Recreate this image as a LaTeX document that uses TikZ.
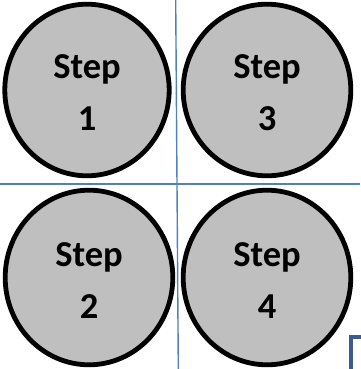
\documentclass[tikz,border=0pt]{standalone}
\usepackage{fontspec}
\setmainfont{Carlito}
\usetikzlibrary{shapes.geometric}
\definecolor{stepgray}{RGB}{191,191,191}
\definecolor{gridblue}{RGB}{79,129,189}
\definecolor{darkblue}{RGB}{59,91,146}
\newcommand{\stepstrut}{\rule{0pt}{29pt}}
\begin{document}
\begin{tikzpicture}[x=1pt,y=-1pt,
  stepcircle/.style={ellipse,draw=black,fill=stepgray,line width=4.8pt,
    inner sep=0pt,align=center,font=\bfseries\fontsize{36.5}{52}\selectfont,text=black},
  gridline/.style={draw=gridblue,line width=1.4pt}]
\useasboundingbox (0,0) rectangle (360,369);
% grid lines
\draw[gridline] (0,184) -- (360,184);
\draw[gridline] (175.7,0) -- (178.3,369);
% circles
\node[stepcircle,minimum width=164.4pt,minimum height=171.6pt] (s1) at (87,90) {\stepstrut Step\\1};
\node[stepcircle,minimum width=167.6pt,minimum height=171.6pt] (s3) at (267,90) {\stepstrut Step\\3};
\node[stepcircle,minimum width=167.6pt,minimum height=174.6pt] (s2) at (89,277.5) {\stepstrut Step\\2};
\node[stepcircle,minimum width=167.6pt,minimum height=174.6pt] (s4) at (267,277.5) {\stepstrut Step\\4};
% partial frame at bottom right
\draw[draw=darkblue,line width=4.5pt] (351,369) -- (351,337) -- (362,337);
\end{tikzpicture}
\end{document}
